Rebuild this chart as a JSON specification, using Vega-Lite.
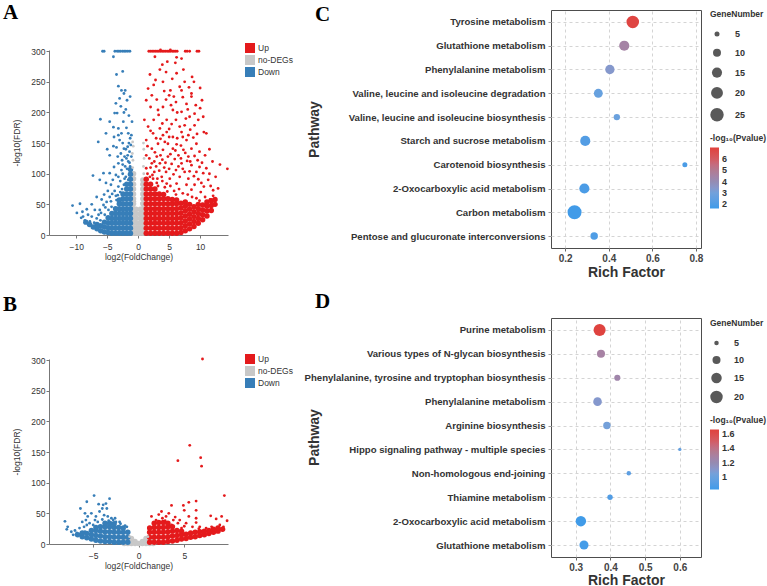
{
"$schema":"https://vega.github.io/schema/vega-lite/v6.json",
"autosize":{"type":"none"},
"padding":{"left":49,"top":10,"right":718,"bottom":576},
"background":"white",
"config":{"font":"Liberation Sans","view":{"stroke":null},"legend":{"padding":0,"labelFont":"Liberation Sans","titleFont":"Liberation Sans","labelColor":"#333","titleColor":"#333"},"axis":{"labelFont":"Liberation Sans","titleFont":"Liberation Sans"}},
"datasets":{
"aCore":[
{"x":-0.75,"y":3,"g":"no-DEGs"},{"x":-0.75,"y":11,"g":"no-DEGs"},{"x":-0.75,"y":19,"g":"no-DEGs"},{"x":-0.75,"y":27,"g":"no-DEGs"},{"x":-0.75,"y":35,"g":"no-DEGs"},{"x":-0.75,"y":43,"g":"no-DEGs"},{"x":-0.75,"y":51,"g":"no-DEGs"},{"x":-0.75,"y":59,"g":"no-DEGs"},{"x":-0.75,"y":67,"g":"no-DEGs"},{"x":-0.75,"y":75,"g":"no-DEGs"},{"x":-0.75,"y":83,"g":"no-DEGs"},{"x":-0.75,"y":92,"g":"no-DEGs"},{"x":-0.75,"y":100,"g":"no-DEGs"},
{"x":-0.35,"y":3,"g":"no-DEGs"},{"x":-0.35,"y":11,"g":"no-DEGs"},{"x":-0.35,"y":19,"g":"no-DEGs"},{"x":-0.35,"y":27,"g":"no-DEGs"},{"x":-0.35,"y":35,"g":"no-DEGs"},{"x":-0.35,"y":42,"g":"no-DEGs"},
{"x":0,"y":3,"g":"no-DEGs"},{"x":0,"y":11,"g":"no-DEGs"},{"x":0,"y":19,"g":"no-DEGs"},
{"x":0.35,"y":3,"g":"no-DEGs"},{"x":0.35,"y":11,"g":"no-DEGs"},{"x":0.35,"y":19,"g":"no-DEGs"},{"x":0.35,"y":27,"g":"no-DEGs"},{"x":0.35,"y":35,"g":"no-DEGs"},{"x":0.35,"y":42,"g":"no-DEGs"},
{"x":0.75,"y":3,"g":"no-DEGs"},{"x":0.75,"y":11,"g":"no-DEGs"},{"x":0.75,"y":19,"g":"no-DEGs"},{"x":0.75,"y":27,"g":"no-DEGs"},{"x":0.75,"y":35,"g":"no-DEGs"},{"x":0.75,"y":43,"g":"no-DEGs"},{"x":0.75,"y":51,"g":"no-DEGs"},{"x":0.75,"y":59,"g":"no-DEGs"},{"x":0.75,"y":67,"g":"no-DEGs"},{"x":0.75,"y":75,"g":"no-DEGs"},{"x":0.75,"y":83,"g":"no-DEGs"},{"x":0.75,"y":90,"g":"no-DEGs"},
{"x":-1.25,"y":3,"g":"Down"},{"x":-1.25,"y":11,"g":"Down"},{"x":-1.25,"y":19,"g":"Down"},{"x":-1.25,"y":27,"g":"Down"},{"x":-1.25,"y":35,"g":"Down"},{"x":-1.25,"y":43,"g":"Down"},{"x":-1.25,"y":51,"g":"Down"},{"x":-1.25,"y":59,"g":"Down"},{"x":-1.25,"y":67,"g":"Down"},{"x":-1.25,"y":75,"g":"Down"},{"x":-1.25,"y":83,"g":"Down"},{"x":-1.25,"y":91,"g":"Down"},{"x":-1.25,"y":99,"g":"Down"},{"x":-1.25,"y":107,"g":"Down"},
{"x":-1.85,"y":3,"g":"Down"},{"x":-1.85,"y":11,"g":"Down"},{"x":-1.85,"y":19,"g":"Down"},{"x":-1.85,"y":27,"g":"Down"},{"x":-1.85,"y":35,"g":"Down"},{"x":-1.85,"y":43,"g":"Down"},{"x":-1.85,"y":51,"g":"Down"},{"x":-1.85,"y":59,"g":"Down"},{"x":-1.85,"y":67,"g":"Down"},{"x":-1.85,"y":75,"g":"Down"},{"x":-1.85,"y":83,"g":"Down"},
{"x":-2.45,"y":3,"g":"Down"},{"x":-2.45,"y":11,"g":"Down"},{"x":-2.45,"y":19,"g":"Down"},{"x":-2.45,"y":27,"g":"Down"},{"x":-2.45,"y":35,"g":"Down"},{"x":-2.45,"y":43,"g":"Down"},{"x":-2.45,"y":51,"g":"Down"},{"x":-2.45,"y":59,"g":"Down"},{"x":-2.45,"y":67,"g":"Down"},
{"x":-3.05,"y":3,"g":"Down"},{"x":-3.05,"y":11,"g":"Down"},{"x":-3.05,"y":19,"g":"Down"},{"x":-3.05,"y":27,"g":"Down"},{"x":-3.05,"y":35,"g":"Down"},{"x":-3.05,"y":43,"g":"Down"},{"x":-3.05,"y":51,"g":"Down"},{"x":-3.05,"y":57,"g":"Down"},
{"x":-3.65,"y":3,"g":"Down"},{"x":-3.65,"y":11,"g":"Down"},{"x":-3.65,"y":19,"g":"Down"},{"x":-3.65,"y":27,"g":"Down"},{"x":-3.65,"y":35,"g":"Down"},{"x":-3.65,"y":43,"g":"Down"},
{"x":-4.25,"y":3,"g":"Down"},{"x":-4.25,"y":11,"g":"Down"},{"x":-4.25,"y":19,"g":"Down"},{"x":-4.25,"y":27,"g":"Down"},{"x":-4.25,"y":35,"g":"Down"},
{"x":-4.85,"y":4,"g":"Down"},{"x":-4.85,"y":12,"g":"Down"},{"x":-4.85,"y":20,"g":"Down"},{"x":-4.85,"y":28,"g":"Down"},
{"x":-5.45,"y":5,"g":"Down"},{"x":-5.45,"y":13,"g":"Down"},{"x":-5.45,"y":21,"g":"Down"},
{"x":-6.05,"y":7,"g":"Down"},{"x":-6.05,"y":15,"g":"Down"},
{"x":-6.65,"y":10,"g":"Down"},{"x":-6.65,"y":17,"g":"Down"},
{"x":-7.25,"y":13,"g":"Down"},{"x":-7.85,"y":17,"g":"Down"},{"x":-8.45,"y":21,"g":"Down"},
{"x":1.3,"y":3,"g":"Up"},{"x":1.3,"y":11,"g":"Up"},{"x":1.3,"y":19,"g":"Up"},{"x":1.3,"y":27,"g":"Up"},{"x":1.3,"y":35,"g":"Up"},{"x":1.3,"y":43,"g":"Up"},{"x":1.3,"y":51,"g":"Up"},{"x":1.3,"y":59,"g":"Up"},{"x":1.3,"y":67,"g":"Up"},{"x":1.3,"y":75,"g":"Up"},{"x":1.3,"y":83,"g":"Up"},{"x":1.3,"y":91,"g":"Up"},
{"x":2.0,"y":3,"g":"Up"},{"x":2.0,"y":11,"g":"Up"},{"x":2.0,"y":19,"g":"Up"},{"x":2.0,"y":27,"g":"Up"},{"x":2.0,"y":35,"g":"Up"},{"x":2.0,"y":43,"g":"Up"},{"x":2.0,"y":51,"g":"Up"},{"x":2.0,"y":59,"g":"Up"},{"x":2.0,"y":67,"g":"Up"},{"x":2.0,"y":75,"g":"Up"},{"x":2.0,"y":83,"g":"Up"},
{"x":2.7,"y":3,"g":"Up"},{"x":2.7,"y":11,"g":"Up"},{"x":2.7,"y":19,"g":"Up"},{"x":2.7,"y":27,"g":"Up"},{"x":2.7,"y":35,"g":"Up"},{"x":2.7,"y":43,"g":"Up"},{"x":2.7,"y":51,"g":"Up"},{"x":2.7,"y":59,"g":"Up"},{"x":2.7,"y":67,"g":"Up"},{"x":2.7,"y":75,"g":"Up"},
{"x":3.4,"y":3,"g":"Up"},{"x":3.4,"y":11,"g":"Up"},{"x":3.4,"y":19,"g":"Up"},{"x":3.4,"y":27,"g":"Up"},{"x":3.4,"y":35,"g":"Up"},{"x":3.4,"y":43,"g":"Up"},{"x":3.4,"y":51,"g":"Up"},{"x":3.4,"y":59,"g":"Up"},{"x":3.4,"y":67,"g":"Up"},
{"x":4.1,"y":3,"g":"Up"},{"x":4.1,"y":11,"g":"Up"},{"x":4.1,"y":19,"g":"Up"},{"x":4.1,"y":27,"g":"Up"},{"x":4.1,"y":35,"g":"Up"},{"x":4.1,"y":43,"g":"Up"},{"x":4.1,"y":51,"g":"Up"},{"x":4.1,"y":59,"g":"Up"},{"x":4.1,"y":66,"g":"Up"},
{"x":4.8,"y":3,"g":"Up"},{"x":4.8,"y":11,"g":"Up"},{"x":4.8,"y":19,"g":"Up"},{"x":4.8,"y":27,"g":"Up"},{"x":4.8,"y":35,"g":"Up"},{"x":4.8,"y":43,"g":"Up"},{"x":4.8,"y":51,"g":"Up"},{"x":4.8,"y":59,"g":"Up"},
{"x":5.5,"y":3,"g":"Up"},{"x":5.5,"y":11,"g":"Up"},{"x":5.5,"y":19,"g":"Up"},{"x":5.5,"y":27,"g":"Up"},{"x":5.5,"y":35,"g":"Up"},{"x":5.5,"y":43,"g":"Up"},{"x":5.5,"y":51,"g":"Up"},{"x":5.5,"y":58,"g":"Up"},
{"x":6.2,"y":3,"g":"Up"},{"x":6.2,"y":11,"g":"Up"},{"x":6.2,"y":19,"g":"Up"},{"x":6.2,"y":27,"g":"Up"},{"x":6.2,"y":35,"g":"Up"},{"x":6.2,"y":43,"g":"Up"},{"x":6.2,"y":51,"g":"Up"},{"x":6.2,"y":57,"g":"Up"},
{"x":6.9,"y":4,"g":"Up"},{"x":6.9,"y":12,"g":"Up"},{"x":6.9,"y":20,"g":"Up"},{"x":6.9,"y":28,"g":"Up"},{"x":6.9,"y":36,"g":"Up"},{"x":6.9,"y":44,"g":"Up"},{"x":6.9,"y":52,"g":"Up"},
{"x":7.6,"y":7,"g":"Up"},{"x":7.6,"y":15,"g":"Up"},{"x":7.6,"y":23,"g":"Up"},{"x":7.6,"y":31,"g":"Up"},{"x":7.6,"y":39,"g":"Up"},{"x":7.6,"y":47,"g":"Up"},{"x":7.6,"y":54,"g":"Up"},
{"x":8.3,"y":10,"g":"Up"},{"x":8.3,"y":18,"g":"Up"},{"x":8.3,"y":26,"g":"Up"},{"x":8.3,"y":34,"g":"Up"},{"x":8.3,"y":42,"g":"Up"},{"x":8.3,"y":50,"g":"Up"},
{"x":9.0,"y":14,"g":"Up"},{"x":9.0,"y":22,"g":"Up"},{"x":9.0,"y":30,"g":"Up"},{"x":9.0,"y":38,"g":"Up"},{"x":9.0,"y":46,"g":"Up"},
{"x":9.7,"y":19,"g":"Up"},{"x":9.7,"y":27,"g":"Up"},{"x":9.7,"y":35,"g":"Up"},{"x":9.7,"y":43,"g":"Up"},{"x":9.7,"y":50,"g":"Up"},
{"x":10.4,"y":25,"g":"Up"},{"x":10.4,"y":33,"g":"Up"},{"x":10.4,"y":41,"g":"Up"},{"x":10.4,"y":49,"g":"Up"},
{"x":11.1,"y":31,"g":"Up"},{"x":11.1,"y":39,"g":"Up"},{"x":11.1,"y":47,"g":"Up"},{"x":11.1,"y":54,"g":"Up"},
{"x":11.8,"y":40,"g":"Up"},{"x":11.8,"y":48,"g":"Up"},{"x":11.8,"y":56,"g":"Up"},
{"x":12.4,"y":50,"g":"Up"},{"x":12.4,"y":58,"g":"Up"}
],
"aPts":[
{"x":-0.9,"y":110,"g":"no-DEGs"},{"x":-0.85,"y":122,"g":"no-DEGs"},{"x":-0.95,"y":133,"g":"no-DEGs"},{"x":-0.8,"y":145,"g":"no-DEGs"},{"x":-0.9,"y":152,"g":"no-DEGs"},{"x":0.9,"y":100,"g":"no-DEGs"},{"x":0.85,"y":112,"g":"no-DEGs"},{"x":0.95,"y":125,"g":"no-DEGs"},{"x":0.9,"y":140,"g":"no-DEGs"},{"x":0.85,"y":150,"g":"no-DEGs"},{"x":-0.55,"y":55,"g":"no-DEGs"},{"x":0.55,"y":52,"g":"no-DEGs"},{"x":-0.2,"y":30,"g":"no-DEGs"},{"x":0.2,"y":32,"g":"no-DEGs"},
{"x":-5.75,"y":300,"g":"Down"},{"x":-5.5,"y":300,"g":"Down"},{"x":-3.76,"y":300,"g":"Down"},{"x":-3.39,"y":300,"g":"Down"},{"x":-3.12,"y":300,"g":"Down"},{"x":-2.85,"y":300,"g":"Down"},{"x":-2.53,"y":300,"g":"Down"},{"x":-2.26,"y":300,"g":"Down"},{"x":-1.99,"y":300,"g":"Down"},{"x":-1.67,"y":300,"g":"Down"},{"x":-1.34,"y":300,"g":"Down"},
{"x":-4.0,"y":291,"g":"Down"},{"x":-2.5,"y":267,"g":"Down"},{"x":-3.5,"y":262,"g":"Down"},{"x":-6.1,"y":189,"g":"Down"},{"x":-6.45,"y":152,"g":"Down"},{"x":-5.2,"y":166,"g":"Down"},{"x":-4.6,"y":185,"g":"Down"},{"x":-3.2,"y":243,"g":"Down"},{"x":-2.7,"y":236,"g":"Down"},{"x":-2.1,"y":236,"g":"Down"},{"x":-2.3,"y":231,"g":"Down"},{"x":-1.3,"y":226,"g":"Down"},{"x":-3.0,"y":223,"g":"Down"},{"x":-3.8,"y":199,"g":"Down"},{"x":-2.3,"y":200,"g":"Down"},{"x":-2.0,"y":205,"g":"Down"},{"x":-3.4,"y":199,"g":"Down"},{"x":-1.0,"y":185,"g":"Down"},{"x":-4.0,"y":176,"g":"Down"},{"x":-3.2,"y":174,"g":"Down"},{"x":-2.7,"y":166,"g":"Down"},{"x":-3.2,"y":163,"g":"Down"},{"x":-3.9,"y":160,"g":"Down"},{"x":-1.6,"y":166,"g":"Down"},{"x":-1.1,"y":163,"g":"Down"},{"x":-5.0,"y":140,"g":"Down"},{"x":-4.0,"y":145,"g":"Down"},{"x":-3.5,"y":143,"g":"Down"},{"x":-2.3,"y":141,"g":"Down"},{"x":-1.7,"y":144,"g":"Down"},{"x":-4.6,"y":130,"g":"Down"},{"x":-2.8,"y":133,"g":"Down"},{"x":-2.2,"y":128,"g":"Down"},{"x":-3.9,"y":111,"g":"Down"},{"x":-3.2,"y":117,"g":"Down"},{"x":-5.6,"y":101,"g":"Down"},{"x":-7.3,"y":97,"g":"Down"},{"x":-4.6,"y":101,"g":"Down"},{"x":-3.6,"y":98,"g":"Down"},{"x":-2.7,"y":106,"g":"Down"},{"x":-6.2,"y":90,"g":"Down"},{"x":-5.2,"y":85,"g":"Down"},{"x":-4.4,"y":82,"g":"Down"},{"x":-3.2,"y":79,"g":"Down"},{"x":-2.3,"y":82,"g":"Down"},{"x":-6.7,"y":62,"g":"Down"},{"x":-5.9,"y":58,"g":"Down"},{"x":-5.1,"y":54,"g":"Down"},{"x":-4.2,"y":67,"g":"Down"},{"x":-3.5,"y":57,"g":"Down"},{"x":-9.4,"y":51,"g":"Down"},{"x":-10.6,"y":48,"g":"Down"},{"x":-8.1,"y":33,"g":"Down"},{"x":-7.0,"y":41,"g":"Down"},{"x":-8.9,"y":30,"g":"Down"},{"x":-6.2,"y":41,"g":"Down"},{"x":-5.6,"y":49,"g":"Down"},{"x":-4.8,"y":41,"g":"Down"},{"x":-4.3,"y":46,"g":"Down"},{"x":-6.7,"y":27,"g":"Down"},{"x":-7.8,"y":22,"g":"Down"},{"x":-8.6,"y":24,"g":"Down"},{"x":-6.1,"y":24,"g":"Down"},{"x":-5.4,"y":33,"g":"Down"},{"x":-1.3,"y":112,"g":"Down"},{"x":-1.6,"y":120,"g":"Down"},{"x":-1.1,"y":128,"g":"Down"},{"x":-1.8,"y":108,"g":"Down"},{"x":-1.4,"y":136,"g":"Down"},{"x":-1.2,"y":147,"g":"Down"},{"x":-1.9,"y":125,"g":"Down"},{"x":-2.5,"y":115,"g":"Down"},{"x":-1.5,"y":150,"g":"Down"},{"x":-2.0,"y":95,"g":"Down"},{"x":-2.9,"y":88,"g":"Down"},{"x":-3.8,"y":72,"g":"Down"},{"x":-4.6,"y":62,"g":"Down"},{"x":-2.6,"y":75,"g":"Down"},{"x":-9.9,"y":36,"g":"Down"},{"x":-9.2,"y":28,"g":"Down"},{"x":-7.5,"y":30,"g":"Down"},{"x":-7.1,"y":20,"g":"Down"},{"x":-6.4,"y":33,"g":"Down"},
{"x":-1.4,"y":118,"g":"Down"},{"x":-2.1,"y":112,"g":"Down"},{"x":-1.7,"y":130,"g":"Down"},{"x":-2.6,"y":122,"g":"Down"},{"x":-3.3,"y":128,"g":"Down"},{"x":-2.0,"y":140,"g":"Down"},{"x":-2.5,"y":150,"g":"Down"},{"x":-3.0,"y":155,"g":"Down"},{"x":-1.3,"y":158,"g":"Down"},{"x":-1.9,"y":175,"g":"Down"},{"x":-2.4,"y":185,"g":"Down"},{"x":-1.5,"y":195,"g":"Down"},{"x":-2.8,"y":210,"g":"Down"},{"x":-1.8,"y":220,"g":"Down"},{"x":-3.6,"y":215,"g":"Down"},{"x":-2.5,"y":100,"g":"Down"},{"x":-3.2,"y":95,"g":"Down"},{"x":-4.1,"y":90,"g":"Down"},{"x":-1.6,"y":90,"g":"Down"},{"x":-2.9,"y":70,"g":"Down"},{"x":-3.6,"y":64,"g":"Down"},{"x":-4.4,"y":55,"g":"Down"},{"x":-5.3,"y":45,"g":"Down"},{"x":-6.0,"y":36,"g":"Down"},{"x":-3.3,"y":65,"g":"Down"},{"x":-2.2,"y":92,"g":"Down"},{"x":-4.9,"y":72,"g":"Down"},{"x":-5.5,"y":66,"g":"Down"},{"x":-7.5,"y":50,"g":"Down"},{"x":-8.3,"y":42,"g":"Down"},{"x":-9.0,"y":38,"g":"Down"},
{"x":1.72,"y":300,"g":"Up"},{"x":1.99,"y":300,"g":"Up"},{"x":2.26,"y":300,"g":"Up"},{"x":2.53,"y":300,"g":"Up"},{"x":2.8,"y":300,"g":"Up"},{"x":3.06,"y":300,"g":"Up"},{"x":3.33,"y":300,"g":"Up"},{"x":3.6,"y":300,"g":"Up"},{"x":3.87,"y":300,"g":"Up"},{"x":4.14,"y":300,"g":"Up"},{"x":4.4,"y":300,"g":"Up"},{"x":4.68,"y":300,"g":"Up"},{"x":4.95,"y":300,"g":"Up"},{"x":5.2,"y":300,"g":"Up"},{"x":5.5,"y":300,"g":"Up"},{"x":5.75,"y":300,"g":"Up"},{"x":6.0,"y":300,"g":"Up"},{"x":6.29,"y":300,"g":"Up"},{"x":7.6,"y":300,"g":"Up"},{"x":7.9,"y":300,"g":"Up"},{"x":8.3,"y":300,"g":"Up"},{"x":9.5,"y":300,"g":"Up"},{"x":9.8,"y":300,"g":"Up"},{"x":3.6,"y":302,"g":"Up"},{"x":5.2,"y":302,"g":"Up"},
{"x":2.7,"y":291,"g":"Up"},{"x":4.7,"y":283,"g":"Up"},{"x":6.0,"y":281,"g":"Up"},{"x":6.2,"y":290,"g":"Up"},{"x":4.5,"y":266,"g":"Up"},{"x":6.2,"y":264,"g":"Up"},{"x":2.8,"y":253,"g":"Up"},{"x":4.0,"y":250,"g":"Up"},{"x":7.5,"y":250,"g":"Up"},{"x":2.5,"y":245,"g":"Up"},{"x":6.7,"y":242,"g":"Up"},{"x":8.2,"y":241,"g":"Up"},{"x":1.6,"y":239,"g":"Up"},{"x":5.2,"y":236,"g":"Up"},{"x":7.0,"y":236,"g":"Up"},{"x":8.6,"y":231,"g":"Up"},{"x":2.2,"y":228,"g":"Up"},{"x":5.0,"y":228,"g":"Up"},{"x":5.75,"y":226,"g":"Up"},{"x":4.5,"y":221,"g":"Up"},{"x":1.3,"y":220,"g":"Up"},{"x":10.3,"y":220,"g":"Up"},{"x":8.6,"y":226,"g":"Up"},{"x":3.0,"y":221,"g":"Up"},{"x":6.1,"y":217,"g":"Up"},{"x":7.8,"y":214,"g":"Up"},{"x":2.0,"y":209,"g":"Up"},{"x":4.0,"y":209,"g":"Up"},{"x":10.0,"y":207,"g":"Up"},{"x":5.6,"y":204,"g":"Up"},{"x":7.0,"y":201,"g":"Up"},{"x":3.2,"y":204,"g":"Up"},{"x":9.1,"y":198,"g":"Up"},{"x":1.0,"y":188,"g":"Up"},{"x":2.5,"y":188,"g":"Up"},{"x":4.6,"y":188,"g":"Up"},{"x":6.1,"y":188,"g":"Up"},{"x":8.3,"y":193,"g":"Up"},{"x":9.7,"y":188,"g":"Up"},{"x":10.5,"y":193,"g":"Up"},{"x":1.6,"y":177,"g":"Up"},{"x":3.5,"y":174,"g":"Up"},{"x":5.4,"y":181,"g":"Up"},{"x":6.7,"y":177,"g":"Up"},{"x":7.5,"y":179,"g":"Up"},{"x":9.1,"y":179,"g":"Up"},{"x":2.4,"y":166,"g":"Up"},{"x":4.0,"y":163,"g":"Up"},{"x":4.6,"y":168,"g":"Up"},{"x":5.6,"y":160,"g":"Up"},{"x":7.2,"y":160,"g":"Up"},{"x":8.1,"y":163,"g":"Up"},{"x":8.9,"y":159,"g":"Up"},{"x":10.6,"y":168,"g":"Up"},{"x":11.0,"y":166,"g":"Up"},{"x":1.3,"y":155,"g":"Up"},{"x":3.2,"y":149,"g":"Up"},{"x":4.8,"y":149,"g":"Up"},{"x":6.2,"y":148,"g":"Up"},{"x":7.8,"y":155,"g":"Up"},{"x":9.4,"y":149,"g":"Up"},{"x":2.2,"y":141,"g":"Up"},{"x":4.0,"y":139,"g":"Up"},{"x":5.6,"y":141,"g":"Up"},{"x":7.3,"y":139,"g":"Up"},{"x":8.6,"y":141,"g":"Up"},{"x":9.9,"y":136,"g":"Up"},{"x":1.3,"y":130,"g":"Up"},{"x":3.0,"y":128,"g":"Up"},{"x":4.8,"y":128,"g":"Up"},{"x":6.5,"y":130,"g":"Up"},{"x":8.1,"y":128,"g":"Up"},{"x":9.1,"y":129,"g":"Up"},{"x":13.2,"y":115,"g":"Up"},{"x":14.4,"y":108,"g":"Up"},{"x":2.2,"y":117,"g":"Up"},{"x":3.5,"y":117,"g":"Up"},{"x":5.4,"y":116,"g":"Up"},{"x":7.0,"y":117,"g":"Up"},{"x":8.6,"y":114,"g":"Up"},{"x":9.9,"y":111,"g":"Up"},{"x":11.0,"y":109,"g":"Up"},{"x":1.3,"y":109,"g":"Up"},{"x":2.6,"y":103,"g":"Up"},{"x":4.5,"y":103,"g":"Up"},{"x":6.1,"y":106,"g":"Up"},{"x":7.5,"y":103,"g":"Up"},{"x":9.4,"y":103,"g":"Up"},{"x":10.5,"y":101,"g":"Up"},{"x":1.9,"y":95,"g":"Up"},{"x":3.8,"y":95,"g":"Up"},{"x":5.1,"y":92,"g":"Up"},{"x":6.7,"y":95,"g":"Up"},{"x":8.1,"y":92,"g":"Up"},{"x":9.7,"y":91,"g":"Up"},{"x":11.3,"y":90,"g":"Up"},{"x":3.0,"y":85,"g":"Up"},{"x":4.6,"y":84,"g":"Up"},{"x":6.2,"y":84,"g":"Up"},{"x":7.8,"y":82,"g":"Up"},{"x":9.1,"y":82,"g":"Up"},{"x":10.6,"y":79,"g":"Up"},{"x":12.1,"y":73,"g":"Up"},{"x":12.9,"y":76,"g":"Up"},{"x":12.1,"y":64,"g":"Up"},{"x":11.6,"y":58,"g":"Up"},{"x":10.8,"y":62,"g":"Up"},{"x":10.1,"y":70,"g":"Up"},{"x":11.7,"y":80,"g":"Up"},{"x":3.9,"y":123,"g":"Up"},{"x":5.9,"y":124,"g":"Up"},{"x":7.9,"y":121,"g":"Up"},{"x":2.7,"y":135,"g":"Up"},{"x":6.9,"y":146,"g":"Up"},{"x":3.6,"y":157,"g":"Up"},{"x":5.0,"y":173,"g":"Up"},{"x":7.7,"y":190,"g":"Up"},{"x":3.3,"y":196,"g":"Up"},{"x":5.3,"y":212,"g":"Up"},
{"x":1.5,"y":100,"g":"Up"},{"x":2.3,"y":98,"g":"Up"},{"x":3.1,"y":92,"g":"Up"},{"x":3.9,"y":88,"g":"Up"},{"x":4.3,"y":78,"g":"Up"},{"x":5.2,"y":80,"g":"Up"},{"x":5.8,"y":72,"g":"Up"},{"x":6.6,"y":75,"g":"Up"},{"x":7.2,"y":68,"g":"Up"},{"x":8.0,"y":66,"g":"Up"},{"x":8.7,"y":62,"g":"Up"},{"x":9.4,"y":60,"g":"Up"},{"x":9.9,"y":56,"g":"Up"},{"x":2.0,"y":110,"g":"Up"},{"x":2.9,"y":112,"g":"Up"},{"x":3.4,"y":105,"g":"Up"},{"x":4.2,"y":110,"g":"Up"},{"x":5.0,"y":108,"g":"Up"},{"x":5.7,"y":99,"g":"Up"},{"x":6.5,"y":112,"g":"Up"},{"x":7.2,"y":108,"g":"Up"},{"x":8.3,"y":104,"g":"Up"},{"x":9.0,"y":96,"g":"Up"},{"x":1.8,"y":125,"g":"Up"},{"x":2.6,"y":120,"g":"Up"},{"x":3.6,"y":130,"g":"Up"},{"x":4.4,"y":118,"g":"Up"},{"x":5.2,"y":132,"g":"Up"},{"x":6.0,"y":138,"g":"Up"},{"x":6.9,"y":125,"g":"Up"},{"x":7.6,"y":134,"g":"Up"},{"x":8.4,"y":120,"g":"Up"},{"x":9.6,"y":122,"g":"Up"},{"x":10.3,"y":118,"g":"Up"},{"x":1.5,"y":145,"g":"Up"},{"x":2.9,"y":158,"g":"Up"},{"x":4.3,"y":152,"g":"Up"},{"x":5.0,"y":160,"g":"Up"},{"x":6.3,"y":158,"g":"Up"},{"x":7.0,"y":168,"g":"Up"},{"x":8.4,"y":172,"g":"Up"},{"x":9.5,"y":165,"g":"Up"},{"x":2.0,"y":170,"g":"Up"},{"x":3.9,"y":182,"g":"Up"},{"x":6.3,"y":200,"g":"Up"},{"x":8.0,"y":205,"g":"Up"},{"x":9.3,"y":212,"g":"Up"},{"x":4.2,"y":235,"g":"Up"},{"x":7.2,"y":225,"g":"Up"},{"x":3.5,"y":270,"g":"Up"},{"x":7.3,"y":270,"g":"Up"},{"x":5.5,"y":255,"g":"Up"},{"x":1.9,"y":262,"g":"Up"},{"x":8.7,"y":258,"g":"Up"},{"x":7.0,"y":288,"g":"Up"},{"x":3.9,"y":278,"g":"Up"},{"x":10.0,"y":240,"g":"Up"},{"x":9.0,"y":250,"g":"Up"},{"x":11.5,"y":140,"g":"Up"},{"x":10.8,"y":130,"g":"Up"},{"x":12.0,"y":120,"g":"Up"},{"x":11.5,"y":100,"g":"Up"},{"x":12.5,"y":95,"g":"Up"},{"x":10.2,"y":85,"g":"Up"},{"x":8.6,"y":74,"g":"Up"},{"x":6.1,"y":66,"g":"Up"},{"x":4.7,"y":71,"g":"Up"},{"x":3.2,"y":80,"g":"Up"},{"x":2.4,"y":92,"g":"Up"}
],
"bCore":[
{"x":-1.6,"y":1,"g":"no-DEGs"},{"x":-1.6,"y":5,"g":"no-DEGs"},{"x":-1.2,"y":1,"g":"no-DEGs"},{"x":-1.2,"y":6,"g":"no-DEGs"},{"x":-1.2,"y":10,"g":"no-DEGs"},{"x":-0.8,"y":1,"g":"no-DEGs"},{"x":-0.8,"y":5,"g":"no-DEGs"},{"x":-0.8,"y":9,"g":"no-DEGs"},{"x":-0.4,"y":1,"g":"no-DEGs"},{"x":-0.4,"y":4,"g":"no-DEGs"},{"x":0,"y":1,"g":"no-DEGs"},{"x":0.4,"y":1,"g":"no-DEGs"},{"x":0.4,"y":4,"g":"no-DEGs"},{"x":0.8,"y":1,"g":"no-DEGs"},{"x":0.8,"y":5,"g":"no-DEGs"},{"x":0.8,"y":9,"g":"no-DEGs"},{"x":1.2,"y":1,"g":"no-DEGs"},{"x":1.2,"y":6,"g":"no-DEGs"},{"x":1.2,"y":10,"g":"no-DEGs"},{"x":1.6,"y":1,"g":"no-DEGs"},{"x":1.6,"y":5,"g":"no-DEGs"},
{"x":-1.2,"y":3,"g":"Down"},{"x":-1.2,"y":11,"g":"Down"},{"x":-1.2,"y":19,"g":"Down"},
{"x":-1.7,"y":3,"g":"Down"},{"x":-1.7,"y":11,"g":"Down"},{"x":-1.7,"y":19,"g":"Down"},{"x":-1.7,"y":26,"g":"Down"},
{"x":-2.2,"y":3,"g":"Down"},{"x":-2.2,"y":11,"g":"Down"},{"x":-2.2,"y":19,"g":"Down"},{"x":-2.2,"y":27,"g":"Down"},
{"x":-2.7,"y":3,"g":"Down"},{"x":-2.7,"y":11,"g":"Down"},{"x":-2.7,"y":19,"g":"Down"},{"x":-2.7,"y":27,"g":"Down"},{"x":-2.7,"y":33,"g":"Down"},
{"x":-3.2,"y":4,"g":"Down"},{"x":-3.2,"y":12,"g":"Down"},{"x":-3.2,"y":20,"g":"Down"},{"x":-3.2,"y":28,"g":"Down"},{"x":-3.2,"y":34,"g":"Down"},
{"x":-3.7,"y":4,"g":"Down"},{"x":-3.7,"y":12,"g":"Down"},{"x":-3.7,"y":20,"g":"Down"},{"x":-3.7,"y":28,"g":"Down"},{"x":-3.7,"y":34,"g":"Down"},
{"x":-4.2,"y":5,"g":"Down"},{"x":-4.2,"y":13,"g":"Down"},{"x":-4.2,"y":21,"g":"Down"},{"x":-4.2,"y":28,"g":"Down"},
{"x":-4.7,"y":6,"g":"Down"},{"x":-4.7,"y":14,"g":"Down"},{"x":-4.7,"y":22,"g":"Down"},{"x":-4.7,"y":27,"g":"Down"},
{"x":-5.2,"y":8,"g":"Down"},{"x":-5.2,"y":15,"g":"Down"},{"x":-5.2,"y":22,"g":"Down"},
{"x":-5.7,"y":10,"g":"Down"},{"x":-5.7,"y":17,"g":"Down"},{"x":-6.2,"y":12,"g":"Down"},{"x":-6.2,"y":18,"g":"Down"},{"x":-6.7,"y":15,"g":"Down"},
{"x":1.2,"y":3,"g":"Up"},{"x":1.2,"y":11,"g":"Up"},{"x":1.2,"y":19,"g":"Up"},{"x":1.2,"y":26,"g":"Up"},
{"x":1.7,"y":3,"g":"Up"},{"x":1.7,"y":11,"g":"Up"},{"x":1.7,"y":19,"g":"Up"},{"x":1.7,"y":27,"g":"Up"},{"x":1.7,"y":34,"g":"Up"},
{"x":2.2,"y":3,"g":"Up"},{"x":2.2,"y":11,"g":"Up"},{"x":2.2,"y":19,"g":"Up"},{"x":2.2,"y":27,"g":"Up"},{"x":2.2,"y":35,"g":"Up"},
{"x":2.7,"y":3,"g":"Up"},{"x":2.7,"y":11,"g":"Up"},{"x":2.7,"y":19,"g":"Up"},{"x":2.7,"y":27,"g":"Up"},{"x":2.7,"y":35,"g":"Up"},
{"x":3.2,"y":4,"g":"Up"},{"x":3.2,"y":12,"g":"Up"},{"x":3.2,"y":20,"g":"Up"},{"x":3.2,"y":28,"g":"Up"},{"x":3.2,"y":34,"g":"Up"},
{"x":3.7,"y":5,"g":"Up"},{"x":3.7,"y":13,"g":"Up"},{"x":3.7,"y":21,"g":"Up"},{"x":3.7,"y":28,"g":"Up"},
{"x":4.2,"y":6,"g":"Up"},{"x":4.2,"y":14,"g":"Up"},{"x":4.2,"y":22,"g":"Up"},
{"x":4.7,"y":8,"g":"Up"},{"x":4.7,"y":15,"g":"Up"},{"x":4.7,"y":21,"g":"Up"},
{"x":5.2,"y":9,"g":"Up"},{"x":5.2,"y":16,"g":"Up"},{"x":5.7,"y":11,"g":"Up"},{"x":5.7,"y":18,"g":"Up"},{"x":6.2,"y":12,"g":"Up"},{"x":6.2,"y":19,"g":"Up"},{"x":6.7,"y":14,"g":"Up"},{"x":6.7,"y":20,"g":"Up"},{"x":7.2,"y":15,"g":"Up"},{"x":7.2,"y":21,"g":"Up"},{"x":7.7,"y":17,"g":"Up"},{"x":7.7,"y":22,"g":"Up"},{"x":8.2,"y":19,"g":"Up"},{"x":8.2,"y":24,"g":"Up"},{"x":8.7,"y":21,"g":"Up"},{"x":8.7,"y":26,"g":"Up"},{"x":9.2,"y":24,"g":"Up"}
],
"bPts":[
{"x":-0.5,"y":6,"g":"no-DEGs"},{"x":0.5,"y":6,"g":"no-DEGs"},{"x":-1.0,"y":12,"g":"no-DEGs"},{"x":1.0,"y":12,"g":"no-DEGs"},
{"x":-8.1,"y":37,"g":"Down"},{"x":-7.9,"y":24,"g":"Down"},{"x":-7.8,"y":28,"g":"Down"},{"x":-7.4,"y":20,"g":"Down"},{"x":-6.9,"y":15,"g":"Down"},{"x":-6.3,"y":12,"g":"Down"},{"x":-5.9,"y":20,"g":"Down"},{"x":-6.5,"y":26,"g":"Down"},{"x":-5.7,"y":31,"g":"Down"},{"x":-5.8,"y":39,"g":"Down"},{"x":-5.7,"y":69,"g":"Down"},{"x":-6.4,"y":58,"g":"Down"},{"x":-5.9,"y":50,"g":"Down"},{"x":-4.9,"y":79,"g":"Down"},{"x":-5.2,"y":50,"g":"Down"},{"x":-4.4,"y":65,"g":"Down"},{"x":-3.9,"y":64,"g":"Down"},{"x":-3.2,"y":74,"g":"Down"},{"x":-3.6,"y":66,"g":"Down"},{"x":-4.0,"y":58,"g":"Down"},{"x":-3.5,"y":58,"g":"Down"},{"x":-4.3,"y":53,"g":"Down"},{"x":-2.6,"y":42,"g":"Down"},{"x":-2.8,"y":39,"g":"Down"},{"x":-4.8,"y":39,"g":"Down"},{"x":-5.4,"y":34,"g":"Down"},{"x":-2.5,"y":36,"g":"Down"},{"x":-3.8,"y":47,"g":"Down"},{"x":-4.7,"y":45,"g":"Down"},{"x":-5.6,"y":45,"g":"Down"},{"x":-5.0,"y":31,"g":"Down"},{"x":-3.4,"y":45,"g":"Down"},{"x":-3.0,"y":34,"g":"Down"},{"x":-2.1,"y":36,"g":"Down"},{"x":-6.2,"y":36,"g":"Down"},{"x":-6.8,"y":18,"g":"Down"},{"x":-7.2,"y":15,"g":"Down"},{"x":-1.5,"y":30,"g":"Down"},{"x":-2.0,"y":33,"g":"Down"},{"x":-1.3,"y":28,"g":"Down"},{"x":-4.0,"y":40,"g":"Down"},{"x":-3.0,"y":42,"g":"Down"},{"x":-4.5,"y":36,"g":"Down"},{"x":-3.3,"y":38,"g":"Down"},{"x":-7.0,"y":22,"g":"Down"},{"x":-6.0,"y":28,"g":"Down"},
{"x":7.0,"y":302,"g":"Up"},{"x":5.6,"y":161,"g":"Up"},{"x":6.8,"y":141,"g":"Up"},{"x":4.3,"y":136,"g":"Up"},{"x":6.9,"y":127,"g":"Up"},{"x":9.4,"y":79,"g":"Up"},{"x":6.3,"y":70,"g":"Up"},{"x":5.5,"y":68,"g":"Up"},{"x":3.6,"y":63,"g":"Up"},{"x":4.9,"y":63,"g":"Up"},{"x":5.0,"y":55,"g":"Up"},{"x":6.3,"y":55,"g":"Up"},{"x":2.5,"y":53,"g":"Up"},{"x":7.9,"y":46,"g":"Up"},{"x":8.5,"y":41,"g":"Up"},{"x":9.1,"y":45,"g":"Up"},{"x":9.7,"y":38,"g":"Up"},{"x":5.5,"y":45,"g":"Up"},{"x":6.3,"y":42,"g":"Up"},{"x":6.3,"y":35,"g":"Up"},{"x":4.5,"y":39,"g":"Up"},{"x":3.0,"y":45,"g":"Up"},{"x":3.8,"y":39,"g":"Up"},{"x":6.7,"y":28,"g":"Up"},{"x":7.4,"y":26,"g":"Up"},{"x":8.2,"y":23,"g":"Up"},{"x":8.9,"y":31,"g":"Up"},{"x":9.3,"y":28,"g":"Up"},{"x":6.6,"y":25,"g":"Up"},{"x":5.9,"y":28,"g":"Up"},{"x":5.2,"y":34,"g":"Up"},{"x":1.4,"y":45,"g":"Up"},{"x":1.9,"y":39,"g":"Up"},{"x":4.3,"y":34,"g":"Up"},{"x":4.7,"y":26,"g":"Up"},{"x":3.6,"y":31,"g":"Up"},{"x":2.6,"y":42,"g":"Up"},{"x":2.2,"y":48,"g":"Up"},{"x":3.3,"y":50,"g":"Up"},{"x":4.0,"y":44,"g":"Up"},{"x":2.9,"y":38,"g":"Up"},{"x":5.0,"y":29,"g":"Up"},{"x":8.0,"y":28,"g":"Up"}
],
"cData":[
{"p":"Tyrosine metabolism","rf":0.51,"n":22,"lp":6.9},
{"p":"Glutathione metabolism","rf":0.471,"n":15,"lp":4.5},
{"p":"Phenylalanine metabolism","rf":0.405,"n":13,"lp":3.4},
{"p":"Valine, leucine and isoleucine degradation","rf":0.352,"n":12,"lp":2.7},
{"p":"Valine, leucine and isoleucine biosynthesis","rf":0.437,"n":7,"lp":2.8},
{"p":"Starch and sucrose metabolism","rf":0.292,"n":15,"lp":2.1},
{"p":"Carotenoid biosynthesis","rf":0.749,"n":5,"lp":1.9},
{"p":"2-Oxocarboxylic acid metabolism","rf":0.288,"n":15,"lp":1.9},
{"p":"Carbon metabolism","rf":0.243,"n":27,"lp":1.7},
{"p":"Pentose and glucuronate interconversions","rf":0.333,"n":9,"lp":2.0}
],
"dData":[
{"p":"Purine metabolism","rf":0.369,"n":19,"lp":1.65},
{"p":"Various types of N-glycan biosynthesis","rf":0.373,"n":10,"lp":1.28},
{"p":"Phenylalanine, tyrosine and tryptophan biosynthesis","rf":0.42,"n":7,"lp":1.25},
{"p":"Phenylalanine metabolism","rf":0.363,"n":11,"lp":1.1},
{"p":"Arginine biosynthesis","rf":0.39,"n":9,"lp":1.05},
{"p":"Hippo signaling pathway - multiple species","rf":0.6,"n":4,"lp":0.98},
{"p":"Non-homologous end-joining","rf":0.453,"n":5,"lp":0.95},
{"p":"Thiamine metabolism","rf":0.399,"n":6,"lp":0.9},
{"p":"2-Oxocarboxylic acid metabolism","rf":0.315,"n":15,"lp":0.84},
{"p":"Glutathione metabolism","rf":0.324,"n":12,"lp":0.85}
]
},
"bounds":"flush",
"spacing":502,
"resolve":{"scale":{"color":"independent","size":"independent"},"legend":{"color":"independent","size":"independent"}},
"hconcat":[
{"bounds":"flush","spacing":0,
"resolve":{"scale":{"color":"independent","size":"independent"},"legend":{"color":"independent","size":"independent"}},
"vconcat":[
{"width":179,"height":40,"data":{"values":[]},"mark":"point","view":{"stroke":null}},
{"width":179,"height":185,
"title":{"text":"A","anchor":"start","frame":"group","font":"Liberation Serif","fontSize":21,"fontWeight":"bold","color":"#000","offset":0,"dx":-46,"dy":-3,"baseline":"alphabetic"},
"encoding":{
"x":{"field":"x","type":"quantitative","title":"log2(FoldChange)","scale":{"domain":[-14.4,14.5],"nice":false,"zero":false},"axis":{"values":[-10,-5,0,5,10],"grid":false,"domainColor":"#777","tickColor":"#777","tickSize":3,"labelFontSize":8.5,"labelColor":"#333","labelPadding":4,"titleFontSize":8.5,"titleFontWeight":"normal","titleColor":"#333","titlePadding":2}},
"y":{"field":"y","type":"quantitative","title":"-log10(FDR)","scale":{"domain":[0,302],"nice":false},"axis":{"values":[0,50,100,150,200,250,300],"grid":false,"domainColor":"#777","tickColor":"#777","tickSize":3,"labelFontSize":8.5,"labelColor":"#333","labelPadding":1,"titleFontSize":8.5,"titleFontWeight":"normal","titleColor":"#333","titlePadding":9}},
"color":{"field":"g","type":"nominal","scale":{"domain":["Up","no-DEGs","Down"],"range":["#e41a1c","#c8c8c8","#377eb8"]},"legend":{"title":null,"orient":"none","legendX":196,"legendY":-7,"symbolType":"square","symbolSize":100,"symbolStrokeWidth":0,"symbolOpacity":1,"labelFontSize":8.5,"labelOffset":3,"rowPadding":2}}
},
"layer":[
{"data":{"name":"aCore"},"mark":{"type":"circle","size":30,"opacity":1}},
{"data":{"name":"aPts"},"mark":{"type":"circle","size":8,"opacity":1}}
]},
{"width":179,"height":124,"data":{"values":[]},"mark":"point","view":{"stroke":null}},
{"width":179,"height":185,
"title":{"text":"B","anchor":"start","frame":"group","font":"Liberation Serif","fontSize":21,"fontWeight":"bold","color":"#000","offset":0,"dx":-46,"dy":-22,"baseline":"alphabetic"},
"encoding":{
"x":{"field":"x","type":"quantitative","title":"log2(FoldChange)","scale":{"domain":[-9.85,9.8],"nice":false,"zero":false},"axis":{"values":[-5,0,5],"grid":false,"domainColor":"#777","tickColor":"#777","tickSize":3,"labelFontSize":8.5,"labelColor":"#333","labelPadding":4,"titleFontSize":8.5,"titleFontWeight":"normal","titleColor":"#333","titlePadding":2}},
"y":{"field":"y","type":"quantitative","title":"-log10(FDR)","scale":{"domain":[0,302],"nice":false},"axis":{"values":[0,50,100,150,200,250,300],"grid":false,"domainColor":"#777","tickColor":"#777","tickSize":3,"labelFontSize":8.5,"labelColor":"#333","labelPadding":1,"titleFontSize":8.5,"titleFontWeight":"normal","titleColor":"#333","titlePadding":9}},
"color":{"field":"g","type":"nominal","scale":{"domain":["Up","no-DEGs","Down"],"range":["#e41a1c","#c8c8c8","#377eb8"]},"legend":{"title":null,"orient":"none","legendX":196,"legendY":-5,"symbolType":"square","symbolSize":100,"symbolStrokeWidth":0,"symbolOpacity":1,"labelFontSize":8.5,"labelOffset":3,"rowPadding":2}}
},
"layer":[
{"data":{"name":"bCore"},"mark":{"type":"circle","size":30,"opacity":1}},
{"data":{"name":"bPts"},"mark":{"type":"circle","size":8,"opacity":1}}
]}
]},
{"bounds":"flush","spacing":70,
"resolve":{"scale":{"color":"independent","size":"independent"},"legend":{"color":"independent","size":"independent"}},
"vconcat":[
{"width":150,"height":238,"data":{"name":"cData"},
"view":{"stroke":"#4d4d4d","strokeWidth":1},
"title":{"text":"C","anchor":"start","frame":"group","font":"Liberation Serif","fontSize":21,"fontWeight":"bold","color":"#000","offset":0,"dx":-236,"dy":32,"baseline":"alphabetic"},
"mark":{"type":"circle","opacity":1},
"encoding":{
"x":{"field":"rf","type":"quantitative","title":"Rich Factor","scale":{"domain":[0.135,0.823],"nice":false,"zero":false},"axis":{"values":[0.2,0.4,0.6,0.8],"format":".1f","grid":true,"gridDash":[3,3],"gridColor":"#d4d4d4","domain":false,"tickColor":"#666","tickSize":3,"labelFontSize":10,"labelFontWeight":"bold","labelColor":"#444","labelPadding":2,"titleFontSize":14,"titleFontWeight":"bold","titleColor":"#333","titlePadding":2}},
"y":{"field":"p","type":"nominal","sort":null,"title":"Pathway","axis":{"grid":true,"gridDash":[3,3],"gridColor":"#d4d4d4","domain":false,"tickColor":"#999","tickSize":3,"labelFontSize":9.6,"labelFontWeight":"bold","labelColor":"#333","labelPadding":3,"labelLimit":400,"titleFontSize":14,"titleFontWeight":"bold","titleColor":"#333","titleX":-230,"titleY":119}},
"size":{"field":"n","type":"quantitative","scale":{"domain":[5,25],"range":[25,180],"zero":false},"legend":{"title":"GeneNumber","orient":"none","legendX":159,"legendY":0,"values":[5,10,15,20,25],"symbolFillColor":"#595959","symbolStrokeWidth":0,"symbolOpacity":1,"symbolType":"circle","labelOffset":11,"rowPadding":8.8,"titleFontSize":8.5,"titleFontWeight":"bold","titlePadding":11,"labelFontSize":9,"labelFontWeight":"bold"}},
"color":{"field":"lp","type":"quantitative","scale":{"domain":[1.62,2.975,4.059,5.035,6.064,7.04],"range":["#3d9be9","#6fa2dc","#958bb0","#b27b90","#d45a5f","#e0413c"]},"legend":{"title":"-log₁₀(Pvalue)","orient":"none","legendX":159,"legendY":124,"direction":"vertical","gradientLength":61,"gradientThickness":9,"gradientStrokeWidth":0,"values":[2,3,4,5,6],"format":"~g","labelOverlap":false,"labelOffset":3,"titleFontSize":8.5,"titleFontWeight":"bold","titlePadding":5,"labelFontSize":9,"labelFontWeight":"bold"}}
}},
{"width":150,"height":239,"data":{"name":"dData"},
"view":{"stroke":"#4d4d4d","strokeWidth":1},
"title":{"text":"D","anchor":"start","frame":"group","font":"Liberation Serif","fontSize":21,"fontWeight":"bold","color":"#000","offset":0,"dx":-236,"dy":11,"baseline":"alphabetic"},
"mark":{"type":"circle","opacity":1},
"encoding":{
"x":{"field":"rf","type":"quantitative","title":"Rich Factor","scale":{"domain":[0.229,0.661],"nice":false,"zero":false},"axis":{"values":[0.3,0.4,0.5,0.6],"format":".1f","grid":true,"gridDash":[3,3],"gridColor":"#d4d4d4","domain":false,"tickColor":"#666","tickSize":3,"labelFontSize":10,"labelFontWeight":"bold","labelColor":"#444","labelPadding":2,"titleFontSize":14,"titleFontWeight":"bold","titleColor":"#333","titlePadding":1}},
"y":{"field":"p","type":"nominal","sort":null,"title":"Pathway","axis":{"grid":true,"gridDash":[3,3],"gridColor":"#d4d4d4","domain":false,"tickColor":"#999","tickSize":3,"labelFontSize":9.6,"labelFontWeight":"bold","labelColor":"#333","labelPadding":3,"labelLimit":400,"titleFontSize":14,"titleFontWeight":"bold","titleColor":"#333","titleX":-230,"titleY":119}},
"size":{"field":"n","type":"quantitative","scale":{"domain":[5,20],"range":[20,154],"zero":false},"legend":{"title":"GeneNumber","orient":"none","legendX":159,"legendY":1,"values":[5,10,15,20],"symbolFillColor":"#595959","symbolStrokeWidth":0,"symbolOpacity":1,"symbolType":"circle","labelOffset":11,"rowPadding":7,"titleFontSize":8.5,"titleFontWeight":"bold","titlePadding":11,"labelFontSize":9,"labelFontWeight":"bold"}},
"color":{"field":"lp","type":"quantitative","scale":{"domain":[0.83,1.0375,1.2035,1.3529,1.5106,1.66],"range":["#3d9be9","#6fa2dc","#958bb0","#b27b90","#d45a5f","#e0413c"]},"legend":{"title":"-log₁₀(Pvalue)","orient":"none","legendX":159,"legendY":98,"direction":"vertical","gradientLength":60,"gradientThickness":9,"gradientStrokeWidth":0,"values":[1,1.2,1.4,1.6],"format":"~g","labelOverlap":false,"labelOffset":3,"titleFontSize":8.5,"titleFontWeight":"bold","titlePadding":5,"labelFontSize":9,"labelFontWeight":"bold"}}
}}
]}
]
}
